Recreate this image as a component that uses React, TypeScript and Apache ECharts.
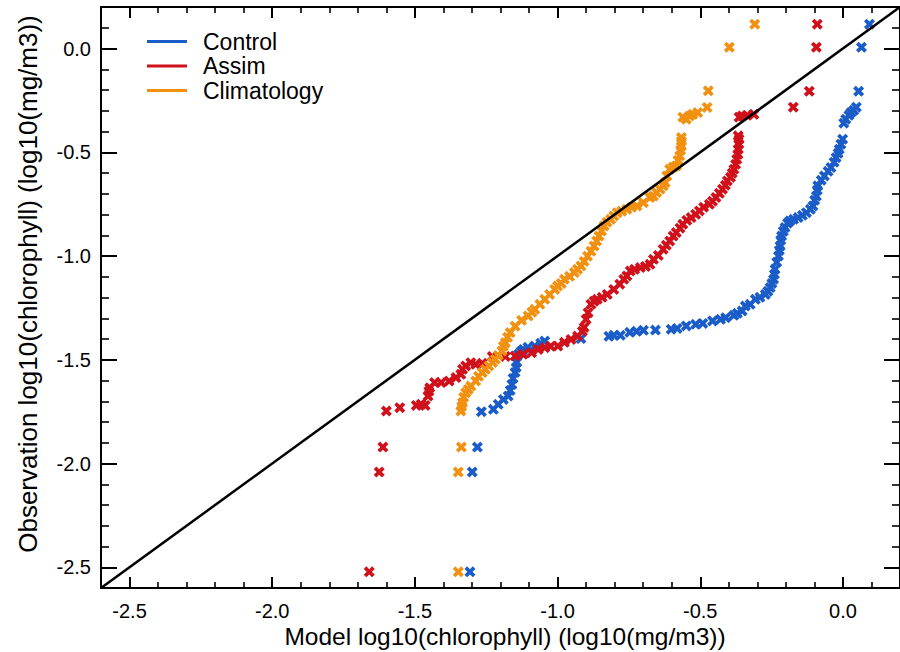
import React, { useEffect, useRef } from "react";
import * as echarts from "echarts";

// ---- Data ----
const seriesNames = ["Control", "Assim", "Climatology"];
const seriesColors = ["#1a5cc8", "#d0101a", "#f29010"];

const controlPoints: number[][] = [
  [-1.307, -2.522], [-1.299, -2.041], [-1.281, -1.921], [-1.267, -1.75],
  [-1.225, -1.739], [-1.208, -1.715], [-1.19, -1.691], [-1.173, -1.675],
  [-1.166, -1.648], [-1.16, -1.619], [-1.156, -1.59], [-1.149, -1.561],
  [-1.145, -1.537], [-1.143, -1.513], [-1.137, -1.474], [-1.128, -1.46],
  [-1.12, -1.45], [-1.104, -1.44], [-1.08, -1.434], [-1.059, -1.421],
  [-1.045, -1.41], [-0.918, -1.398], [-0.82, -1.387], [-0.803, -1.382],
  [-0.78, -1.382], [-0.747, -1.368], [-0.723, -1.363], [-0.699, -1.358],
  [-0.657, -1.357], [-0.602, -1.353], [-0.581, -1.349], [-0.549, -1.337],
  [-0.516, -1.329], [-0.491, -1.325], [-0.457, -1.313], [-0.429, -1.305],
  [-0.411, -1.297], [-0.382, -1.286], [-0.37, -1.276], [-0.353, -1.265],
  [-0.342, -1.241], [-0.325, -1.233], [-0.307, -1.209], [-0.291, -1.199],
  [-0.272, -1.185], [-0.263, -1.17], [-0.255, -1.152], [-0.249, -1.132],
  [-0.243, -1.112], [-0.24, -1.088], [-0.238, -1.064], [-0.232, -1.03],
  [-0.226, -1.0], [-0.223, -0.973], [-0.22, -0.952], [-0.218, -0.924],
  [-0.215, -0.904], [-0.209, -0.881], [-0.203, -0.863], [-0.194, -0.842],
  [-0.186, -0.831], [-0.173, -0.823], [-0.157, -0.815], [-0.142, -0.804],
  [-0.128, -0.791], [-0.114, -0.775], [-0.105, -0.759], [-0.099, -0.731],
  [-0.093, -0.711], [-0.09, -0.683], [-0.088, -0.662], [-0.076, -0.635],
  [-0.065, -0.614], [-0.052, -0.592], [-0.042, -0.574], [-0.031, -0.548],
  [-0.024, -0.526], [-0.017, -0.505], [-0.013, -0.486], [-0.007, -0.461],
  [-0.001, -0.437], [0.003, -0.36], [0.01, -0.341], [0.021, -0.322],
  [0.028, -0.309], [0.038, -0.298], [0.047, -0.283], [0.055, -0.206],
  [0.065, 0.006], [0.093, 0.117],
];

const assimPoints: number[][] = [
  [-1.66, -2.522], [-1.625, -2.041], [-1.612, -1.921], [-1.6, -1.747],
  [-1.553, -1.731], [-1.495, -1.72], [-1.478, -1.715], [-1.464, -1.72],
  [-1.454, -1.675], [-1.451, -1.652], [-1.448, -1.635], [-1.431, -1.61],
  [-1.408, -1.61], [-1.38, -1.603], [-1.356, -1.586], [-1.339, -1.57],
  [-1.333, -1.546], [-1.322, -1.53], [-1.304, -1.514], [-1.287, -1.522],
  [-1.264, -1.517], [-1.229, -1.484], [-1.183, -1.484], [-1.149, -1.482],
  [-1.121, -1.474], [-1.091, -1.466], [-1.068, -1.45], [-1.045, -1.442],
  [-1.024, -1.435], [-0.999, -1.434], [-0.976, -1.416], [-0.953, -1.402],
  [-0.93, -1.386], [-0.913, -1.363], [-0.907, -1.344], [-0.9, -1.305],
  [-0.893, -1.273], [-0.883, -1.233], [-0.872, -1.218], [-0.861, -1.209],
  [-0.844, -1.199], [-0.826, -1.185], [-0.803, -1.161], [-0.782, -1.136],
  [-0.768, -1.112], [-0.757, -1.096], [-0.745, -1.072], [-0.73, -1.064],
  [-0.71, -1.056], [-0.692, -1.05], [-0.676, -1.04], [-0.664, -1.016],
  [-0.647, -0.997], [-0.63, -0.968], [-0.619, -0.948], [-0.607, -0.928],
  [-0.595, -0.904], [-0.584, -0.887], [-0.571, -0.866], [-0.561, -0.847],
  [-0.547, -0.828], [-0.532, -0.815], [-0.516, -0.799], [-0.503, -0.783],
  [-0.488, -0.765], [-0.468, -0.751], [-0.457, -0.736], [-0.445, -0.718],
  [-0.433, -0.698], [-0.422, -0.678], [-0.412, -0.659], [-0.405, -0.638],
  [-0.394, -0.621], [-0.388, -0.601], [-0.382, -0.582], [-0.376, -0.558],
  [-0.372, -0.534], [-0.368, -0.51], [-0.367, -0.486], [-0.365, -0.461],
  [-0.364, -0.437], [-0.367, -0.421], [-0.364, -0.331], [-0.353, -0.325],
  [-0.336, -0.322], [-0.312, -0.317], [-0.174, -0.283], [-0.118, -0.206],
  [-0.093, 0.006], [-0.09, 0.117],
];

const climatologyPoints: number[][] = [
  [-1.348, -2.522], [-1.348, -2.041], [-1.337, -1.921], [-1.339, -1.747],
  [-1.336, -1.725], [-1.333, -1.707], [-1.329, -1.681], [-1.322, -1.659],
  [-1.313, -1.643], [-1.304, -1.627], [-1.287, -1.603], [-1.277, -1.58],
  [-1.264, -1.562], [-1.253, -1.546], [-1.241, -1.53], [-1.228, -1.513],
  [-1.218, -1.498], [-1.208, -1.479], [-1.195, -1.458], [-1.19, -1.435],
  [-1.183, -1.418], [-1.175, -1.392], [-1.166, -1.369], [-1.149, -1.338],
  [-1.126, -1.31], [-1.103, -1.289], [-1.09, -1.271], [-1.08, -1.257],
  [-1.062, -1.233], [-1.045, -1.209], [-1.028, -1.185], [-1.01, -1.161],
  [-1.0, -1.145], [-0.987, -1.132], [-0.976, -1.112], [-0.958, -1.098],
  [-0.941, -1.08], [-0.93, -1.064], [-0.918, -1.048], [-0.907, -1.026],
  [-0.895, -1.001], [-0.883, -0.977], [-0.872, -0.952], [-0.863, -0.928],
  [-0.855, -0.904], [-0.846, -0.879], [-0.837, -0.855], [-0.827, -0.837],
  [-0.814, -0.823], [-0.803, -0.807], [-0.791, -0.791], [-0.775, -0.784],
  [-0.757, -0.775], [-0.74, -0.765], [-0.722, -0.759], [-0.699, -0.743],
  [-0.676, -0.718], [-0.664, -0.711], [-0.653, -0.694], [-0.641, -0.678],
  [-0.63, -0.662], [-0.623, -0.646], [-0.617, -0.614], [-0.607, -0.582],
  [-0.595, -0.572], [-0.584, -0.566], [-0.578, -0.539], [-0.572, -0.518],
  [-0.569, -0.49], [-0.566, -0.47], [-0.566, -0.447], [-0.566, -0.429],
  [-0.561, -0.331], [-0.549, -0.341], [-0.537, -0.325], [-0.526, -0.317],
  [-0.509, -0.309], [-0.476, -0.284], [-0.472, -0.204], [-0.398, 0.006],
  [-0.309, 0.117],
];

// 1:1 reference line
const identityLine: number[][] = [[-2.6, -2.6], [0.2, 0.2]];

// Axis ticks
const xMajorTicks = [-2.5, -2.0, -1.5, -1.0, -0.5, 0.0];
const yMajorTicks = [-2.5, -2.0, -1.5, -1.0, -0.5, 0.0];
const xRange = [-2.6, 0.2];
const yRange = [-2.6, 0.2];

const xTitle = "Model log10(chlorophyll) (log10(mg/m3))";
const yTitle = "Observation log10(chlorophyll) (log10(mg/m3))";

const FONT = '"Liberation Sans", Arial, Helvetica, sans-serif';
const X_PATH =
  "path://M0,2.4L2.4,0L5,2.6L7.6,0L10,2.4L7.4,5L10,7.6L7.6,10L5,7.4L2.4,10L0,7.6L2.6,5Z";

function minorTicks(): number[] {
  const out: number[] = [];
  for (let i = -26; i <= 2; i++) {
    if (i % 5 !== 0) out.push(i / 10);
  }
  return out;
}

export default function App() {
  const ref = useRef<HTMLDivElement>(null);

  useEffect(() => {
    if (!ref.current) return;
    const chart = echarts.init(ref.current, null, { renderer: "svg" });
    const minor = minorTicks();
    const lineStyle = { color: "#000", width: 2 };
    const fmt = (v: number) => v.toFixed(1);

    const mkX = (position: string, major: boolean, labels: boolean) => ({
      type: "value",
      position,
      min: xRange[0],
      max: xRange[1],
      axisLine: { show: major, onZero: false, lineStyle },
      axisTick: {
        show: true,
        inside: true,
        length: major ? 11 : 6,
        customValues: major ? xMajorTicks : minor,
        lineStyle: { color: "#000", width: major ? 2 : 1.6 },
      },
      axisLabel: labels
        ? {
            show: true,
            customValues: xMajorTicks,
            formatter: fmt,
            fontSize: 20,
            fontFamily: FONT,
            color: "#000",
            margin: 13,
          }
        : { show: false },
      splitLine: { show: false },
    });
    const mkY = (position: string, major: boolean, labels: boolean) => ({
      type: "value",
      position,
      min: yRange[0],
      max: yRange[1],
      axisLine: { show: major, onZero: false, lineStyle },
      axisTick: {
        show: true,
        inside: true,
        length: major ? 16 : 8,
        customValues: major ? yMajorTicks : minor,
        lineStyle: { color: "#000", width: major ? 2 : 1.6 },
      },
      axisLabel: labels
        ? {
            show: true,
            customValues: yMajorTicks,
            formatter: fmt,
            fontSize: 20,
            fontFamily: FONT,
            color: "#000",
            margin: 10,
          }
        : { show: false },
      splitLine: { show: false },
    });

    const pointSets = [controlPoints, assimPoints, climatologyPoints];

    chart.setOption({
      animation: false,
      backgroundColor: "#fff",
      grid: { left: 101, top: 7, width: 808, bottom: 64, containLabel: false },
      xAxis: [
        mkX("bottom", true, true),
        mkX("bottom", false, false),
        mkX("top", true, false),
        mkX("top", false, false),
      ],
      yAxis: [
        mkY("left", true, true),
        mkY("left", false, false),
        mkY("right", true, false),
        mkY("right", false, false),
      ],
      legend: {
        orient: "vertical",
        left: 142,
        top: 25,
        itemWidth: 40,
        itemHeight: 3,
        itemGap: 1.5,
        data: seriesNames.map((n) => ({ name: n, icon: "rect" })),
        textStyle: {
          fontSize: 23,
          fontFamily: FONT,
          color: "#000",
          padding: [0, 0, 0, 11],
        },
      },
      series: [
        ...pointSets.map((pts, i) => ({
          type: "scatter",
          name: seriesNames[i],
          data: pts,
          symbol: X_PATH,
          symbolSize: 11,
          itemStyle: { color: seriesColors[i], opacity: 1 },
          z: 2 + i,
        })),
        {
          type: "line",
          name: "1:1",
          data: identityLine,
          symbol: "none",
          lineStyle: { color: "#000", width: 2.5 },
          z: 10,
        },
      ],
      graphic: [
        {
          type: "text",
          x: 505,
          y: 636,
          style: {
            text: xTitle,
            font: `24.5px ${FONT}`,
            fill: "#000",
            align: "center",
            verticalAlign: "middle",
            textAlign: "center",
            textVerticalAlign: "middle",
          },
        },
        {
          type: "text",
          x: 28,
          y: 284,
          rotation: Math.PI / 2,
          style: {
            text: yTitle,
            font: `26px ${FONT}`,
            fill: "#000",
            align: "center",
            verticalAlign: "middle",
            textAlign: "center",
            textVerticalAlign: "middle",
          },
        },
      ],
    });
    return () => chart.dispose();
  }, []);

  return (
    <div
      ref={ref}
      style={{ position: "absolute", left: 0, top: 0, width: 900, height: 652 }}
    />
  );
}
